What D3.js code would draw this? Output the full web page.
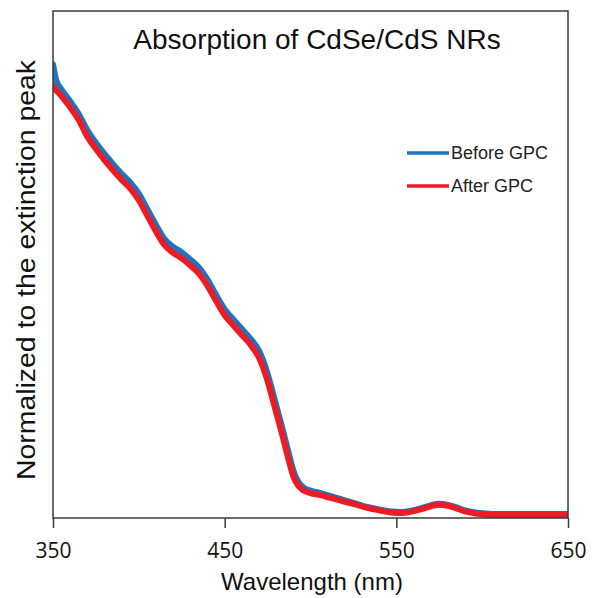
<!DOCTYPE html>
<html>
<head>
<meta charset="utf-8">
<script src="https://cdn.jsdelivr.net/npm/d3@7"></script>
<style>
  body { margin: 0; background: #fff; }
  svg { display: block; }
</style>
</head>
<body>
<svg id="chart"></svg>
<script>
// wavelength (nm) samples, normalized absorbance
const wavelengths = [350, 352, 355, 360, 365, 370, 375, 380, 385, 390, 395, 400, 405, 410, 415, 420, 425, 430, 435, 440, 445, 450, 455, 460, 465, 470, 475, 478, 481, 484, 487, 490, 493, 496, 500, 506, 511, 518, 526, 533, 540, 547, 553, 558, 564, 570, 575, 580, 585, 590, 596, 602, 610, 620, 635, 650];
const afterGPC = [0.852, 0.843, 0.832, 0.810, 0.785, 0.752, 0.728, 0.706, 0.686, 0.667, 0.650, 0.627, 0.596, 0.565, 0.538, 0.523, 0.512, 0.498, 0.482, 0.458, 0.428, 0.400, 0.380, 0.361, 0.342, 0.316, 0.270, 0.233, 0.196, 0.158, 0.118, 0.082, 0.063, 0.054, 0.049, 0.045, 0.040, 0.034, 0.027, 0.020, 0.015, 0.011, 0.010, 0.012, 0.017, 0.023, 0.026, 0.024, 0.019, 0.013, 0.009, 0.007, 0.006, 0.006, 0.006, 0.006];
const beforeGPC = [0.895, 0.862, 0.845, 0.822, 0.797, 0.765, 0.740, 0.718, 0.698, 0.679, 0.662, 0.640, 0.609, 0.578, 0.550, 0.535, 0.524, 0.510, 0.494, 0.470, 0.440, 0.412, 0.392, 0.373, 0.354, 0.330, 0.285, 0.248, 0.210, 0.172, 0.132, 0.094, 0.071, 0.060, 0.054, 0.049, 0.044, 0.037, 0.029, 0.022, 0.017, 0.013, 0.012, 0.014, 0.019, 0.025, 0.028, 0.026, 0.021, 0.015, 0.011, 0.009, 0.008, 0.008, 0.008, 0.008];
const xTicks = [350, 450, 550, 650];

const series = [
  { name: 'Before GPC', values: beforeGPC, color: '#1f74c0' },
  { name: 'After GPC', values: afterGPC, color: '#ed1c24' }
];

const width = 592, height = 598;
const margin = { top: 11, right: 24, bottom: 80, left: 53 };
const font = '"Liberation Sans", Arial, sans-serif';

const svg = d3.select('#chart').attr('width', width).attr('height', height);

const x = d3.scaleLinear([350, 650], [margin.left, width - margin.right]);
const y = d3.scaleLinear([0, 1], [height - margin.bottom, margin.top]);

// curves (clipped to the frame)
svg.append('clipPath').attr('id', 'clip')
  .append('rect')
  .attr('x', margin.left).attr('y', margin.top)
  .attr('width', x(650) - x(350)).attr('height', y(0) - y(1));

const line = d3.line()
  .x((d, i) => x(wavelengths[i]))
  .y((d) => y(d))
  .curve(d3.curveMonotoneX);

svg.append('g')
  .attr('clip-path', 'url(#clip)')
  .selectAll('path')
  .data(series)
  .join('path')
  .attr('d', (d) => line(d.values))
  .attr('fill', 'none')
  .attr('stroke', (d) => d.color)
  .attr('stroke-width', 6)
  .attr('stroke-linejoin', 'round')
  .attr('stroke-linecap', 'round');

// frame
svg.append('rect')
  .attr('x', margin.left).attr('y', margin.top)
  .attr('width', x(650) - x(350)).attr('height', y(0) - y(1))
  .attr('fill', 'none')
  .attr('stroke', '#3a3a3a')
  .attr('stroke-width', 1.5);

// x axis
svg.append('g')
  .attr('transform', `translate(0,${y(0)})`)
  .call(d3.axisBottom(x).tickValues(xTicks).tickSize(10).tickSizeOuter(0).tickPadding(15))
  .call((g) => g.select('.domain').remove())
  .call((g) => g.selectAll('.tick line').attr('stroke', '#3a3a3a').attr('stroke-width', 1.5))
  .call((g) => g.selectAll('.tick text')
    .attr('fill', '#111')
    .attr('font-family', '"Open Sans", "Noto Sans", sans-serif')
    .attr('font-size', 21));

// axis titles
svg.append('text')
  .attr('x', 312).attr('y', 590)
  .attr('text-anchor', 'middle')
  .attr('font-family', font)
  .attr('font-size', 24)
  .attr('fill', '#111')
  .text('Wavelength (nm)');

svg.append('text')
  .attr('transform', 'translate(35,270) rotate(-90)')
  .attr('text-anchor', 'middle')
  .attr('font-family', font)
  .attr('font-size', 26)
  .attr('textLength', 420)
  .attr('lengthAdjust', 'spacingAndGlyphs')
  .attr('fill', '#111')
  .text('Normalized to the extinction peak');

svg.append('text')
  .attr('x', 317).attr('y', 49)
  .attr('text-anchor', 'middle')
  .attr('font-family', font)
  .attr('font-size', 28)
  .attr('fill', '#111')
  .text('Absorption of CdSe/CdS NRs');

// legend
const legend = svg.append('g')
  .selectAll('g')
  .data(series)
  .join('g')
  .attr('transform', (d, i) => `translate(407,${153 + i * 33})`);

legend.append('line')
  .attr('x1', 0).attr('x2', 42)
  .attr('stroke', (d) => d.color)
  .attr('stroke-width', 3.5);

legend.append('text')
  .attr('x', 44).attr('dy', '0.35em')
  .attr('font-family', font)
  .attr('font-size', 18)
  .attr('fill', '#222')
  .text((d) => d.name);
</script>
</body>
</html>
